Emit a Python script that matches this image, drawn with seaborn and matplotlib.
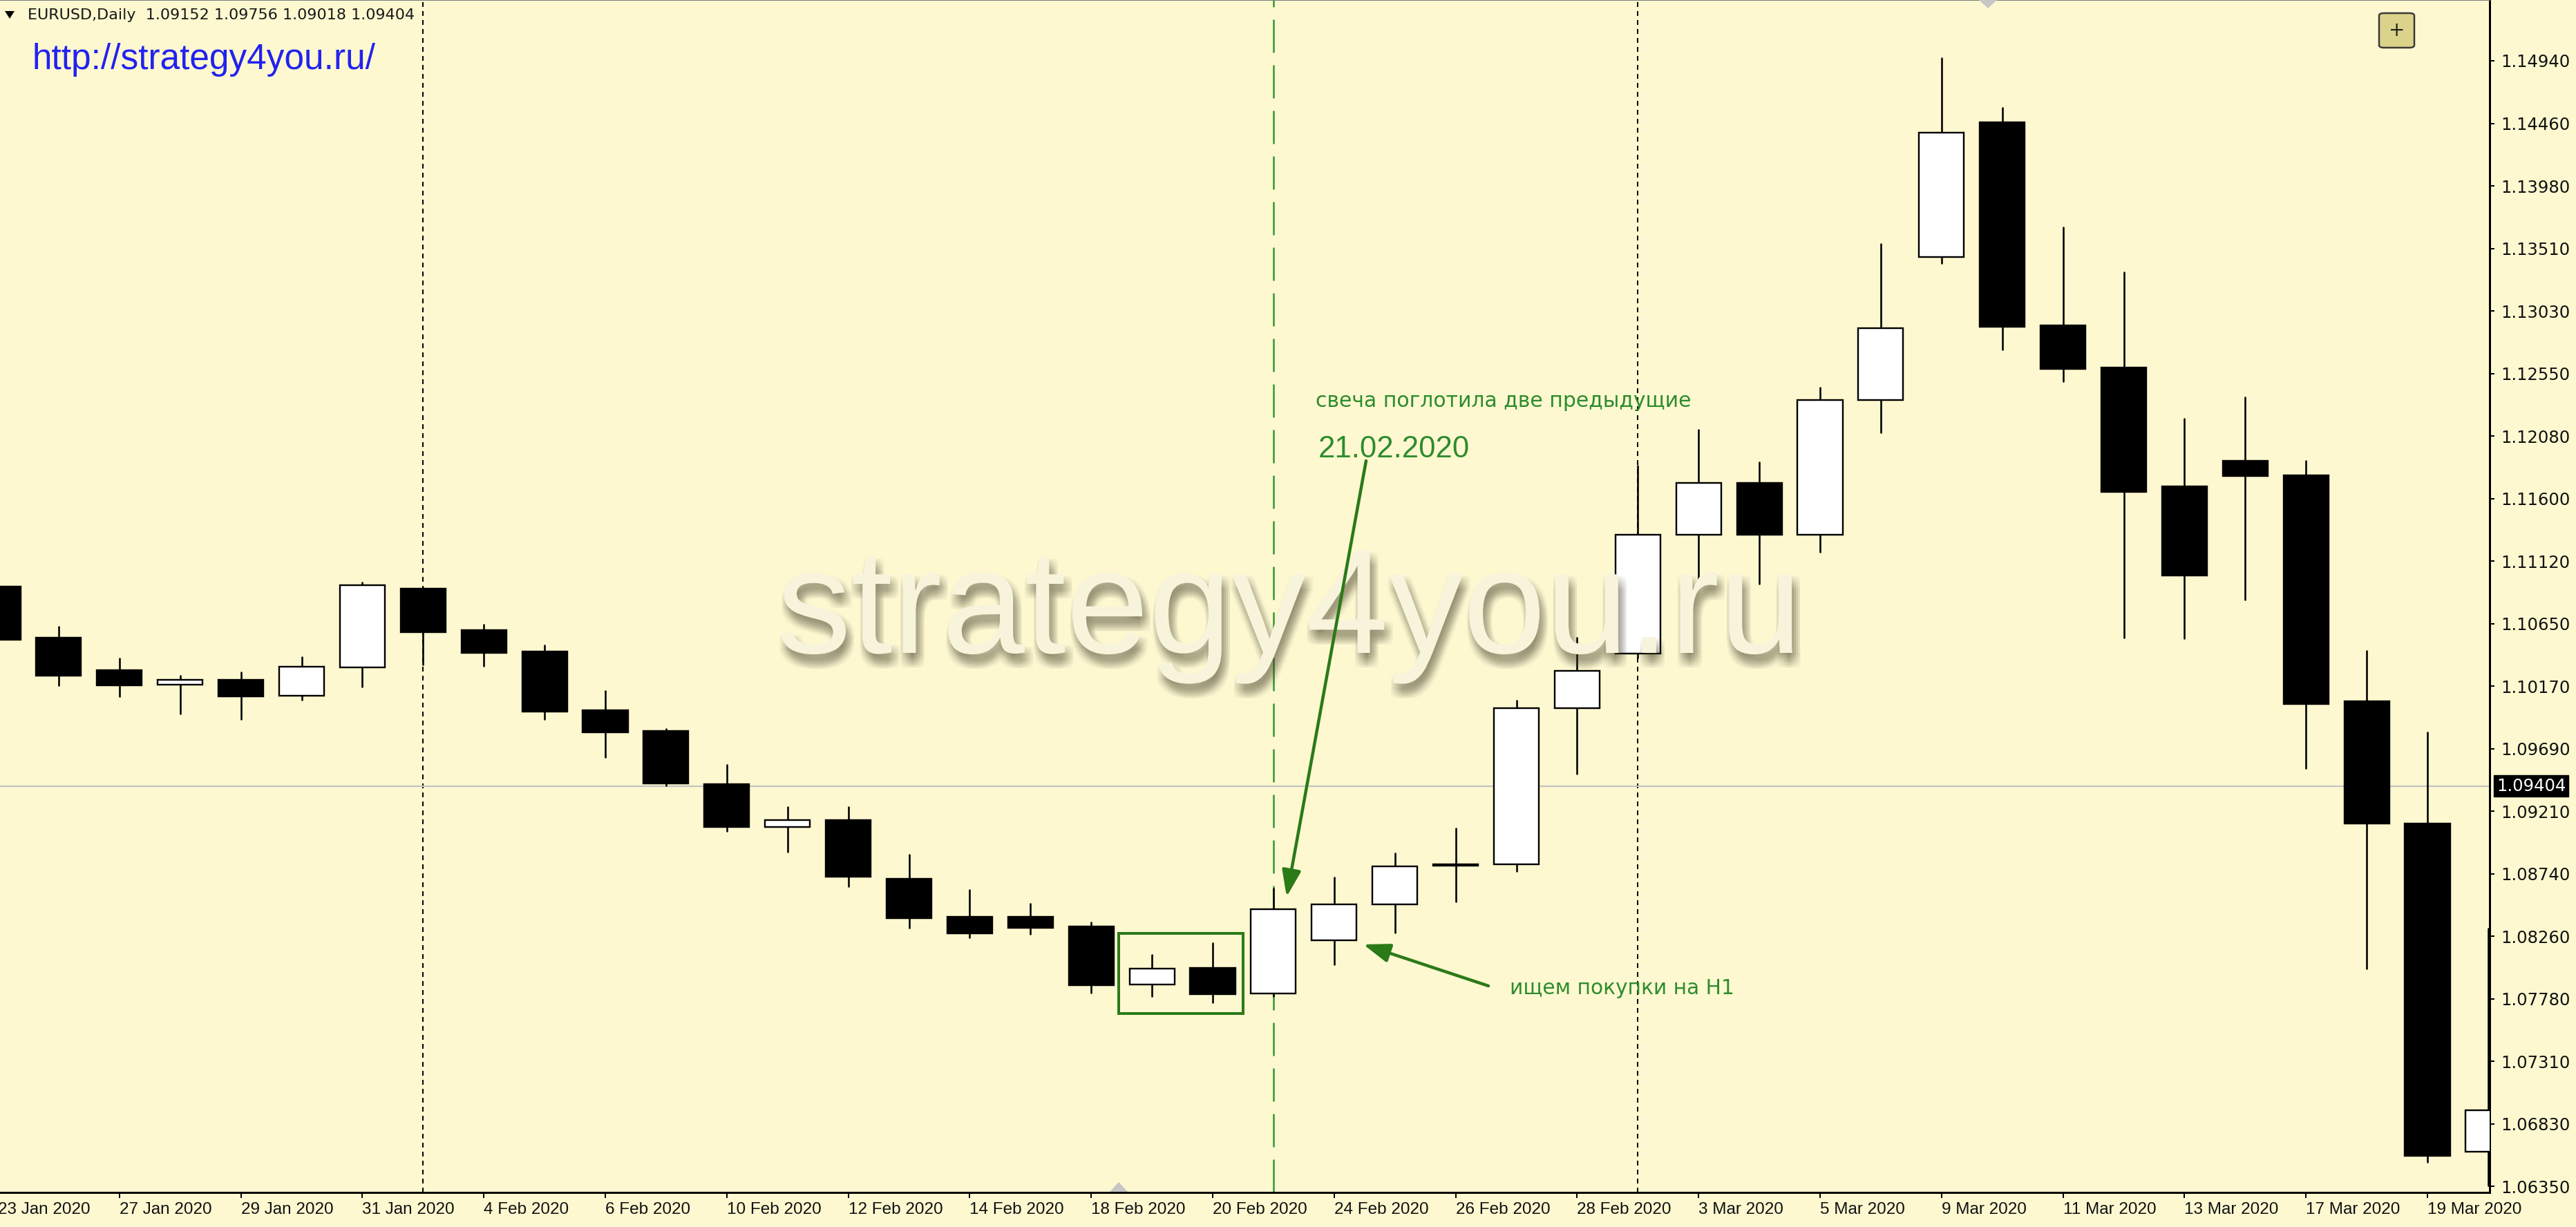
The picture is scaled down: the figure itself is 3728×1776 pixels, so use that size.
import numpy as np
import pandas as pd
import matplotlib
matplotlib.use("Agg")
import matplotlib.pyplot as plt
import matplotlib.patheffects as pe
from matplotlib.patches import Rectangle, Polygon, FancyBboxPatch
import seaborn as sns

# ---------------- data ----------------
dates = ["2020-01-23", "2020-01-24", "2020-01-27", "2020-01-28", "2020-01-29", "2020-01-30", "2020-01-31",
         "2020-02-03", "2020-02-04", "2020-02-05", "2020-02-06", "2020-02-07",
         "2020-02-10", "2020-02-11", "2020-02-12", "2020-02-13", "2020-02-14",
         "2020-02-17", "2020-02-18", "2020-02-19", "2020-02-20", "2020-02-21",
         "2020-02-24", "2020-02-25", "2020-02-26", "2020-02-27", "2020-02-28",
         "2020-03-02", "2020-03-03", "2020-03-04", "2020-03-05", "2020-03-06",
         "2020-03-09", "2020-03-10", "2020-03-11", "2020-03-12", "2020-03-13",
         "2020-03-16", "2020-03-17", "2020-03-18", "2020-03-19", "2020-03-20"]

opens = [1.10927, 1.10535, 1.10289, 1.10178, 1.10217, 1.10092, 1.10310,
         1.10913, 1.10593, 1.10433, 1.09983, 1.09823,
         1.09417, 1.09094, 1.09143, 1.08695, 1.08407,
         1.08407, 1.08333, 1.07891, 1.08015, 1.07821,
         1.08228, 1.08502, 1.08795, 1.08808, 1.09997,
         1.10414, 1.11324, 1.11717, 1.11324, 1.12353,
         1.13441, 1.14469, 1.12918, 1.12597, 1.11690,
         1.11889, 1.11776, 1.10051, 1.09119, 1.06612]
highs = [1.11091, 1.10623, 1.10377, 1.10245, 1.10275, 1.10391, 1.10957,
         1.10922, 1.10637, 1.10479, 1.10131, 1.09841,
         1.09565, 1.09247, 1.09247, 1.08883, 1.08611,
         1.08508, 1.08364, 1.08118, 1.08206, 1.08623,
         1.08708, 1.08891, 1.09083, 1.10057, 1.10537,
         1.11850, 1.12124, 1.11877, 1.12444, 1.13542,
         1.14960, 1.14582, 1.13671, 1.13324, 1.12210,
         1.12371, 1.11889, 1.10439, 1.09812, 1.08315]
lows = [1.10358, 1.10175, 1.10087, 1.09958, 1.09915, 1.10061, 1.10161,
        1.10333, 1.10319, 1.09915, 1.09626, 1.09407,
        1.09059, 1.08904, 1.08640, 1.08321, 1.08247,
        1.08276, 1.07828, 1.07799, 1.07754, 1.07800,
        1.08045, 1.08283, 1.08525, 1.08754, 1.09499,
        1.10386, 1.10949, 1.10949, 1.11191, 1.12101,
        1.13395, 1.12737, 1.12492, 1.10537, 1.10534,
        1.10827, 1.09539, 1.08013, 1.06537, 1.06356]
closes = [1.10521, 1.10248, 1.10175, 1.10215, 1.10089, 1.10315, 1.10939,
          1.10579, 1.10421, 1.09973, 1.09814, 1.09423,
          1.09090, 1.09143, 1.08714, 1.08394, 1.08278,
          1.08324, 1.07886, 1.08011, 1.07814, 1.08465,
          1.08502, 1.08790, 1.08805, 1.09997, 1.10285,
          1.11324, 1.11717, 1.11324, 1.12353, 1.12901,
          1.14393, 1.12910, 1.12590, 1.11652, 1.11012,
          1.11769, 1.10029, 1.09119, 1.06582, 1.06929]

price_tick_labels = ["1.14940", "1.14460", "1.13980", "1.13510", "1.13030", "1.12550", "1.12080",
                     "1.11600", "1.11120", "1.10650", "1.10170", "1.09690", "1.09210", "1.08740",
                     "1.08260", "1.07780", "1.07310", "1.06830", "1.06350"]
current_price = 1.09404
header_symbol = "EURUSD,Daily"
header_ohlc = ["1.09152", "1.09756", "1.09018", "1.09404"]
marked_date = "2020-02-21"
url_text = "http://strategy4you.ru/"
watermark_text = "strategy4you.ru"
note_top = "свеча поглотила две предыдущие"
note_date = "21.02.2020"
note_bottom = "ищем покупки на H1"

# ---------------- layout ----------------
W, H, DPI = 3728, 1776, 100
BG = "#fdf8d0"
GREEN_TXT = "#2d8c2d"
GREEN_LN = "#2b7a18"


def pt(px):
    return px * 72.0 / DPI


sns.set_theme(style="white")
plt.rcParams["font.family"] = ["DejaVu Sans"]
plt.rcParams["lines.scale_dashes"] = False

fig = plt.figure(figsize=(W / DPI, H / DPI), dpi=DPI, facecolor=BG)
AX_L, AX_R, AX_T, AX_B = -10, 3603, 0, 1726
ax = fig.add_axes([AX_L / W, 1 - AX_B / H, (AX_R - AX_L) / W, (AX_B - AX_T) / H])
ax.set_facecolor(BG)

SP, X0 = 87.9, -3.0                 # pixels per bar, pixel of bar 0
P_REF, Y_REF, PPU = 1.1494, 88.0, 18964.0


def px2data(xp, yp):
    return (xp - X0) / SP, P_REF - (yp - Y_REF) / PPU


ax.set_xlim(px2data(AX_L, 0)[0], px2data(AX_R, 0)[0])
ax.set_ylim(px2data(0, AX_B)[1], px2data(0, AX_T)[1])

o = np.array(opens); h = np.array(highs); l = np.array(lows); c = np.array(closes)
n = len(dates)
idx = np.arange(n)
dts = pd.to_datetime(dates)

# period separators (first bar of each month)
sep_idx = [i for i in range(1, n) if dts[i].month != dts[i - 1].month]
for i in sep_idx:
    ax.axvline(i, color="black", lw=pt(2), ls=(0, (pt(7), pt(6))), zorder=1)
mark_i = dates.index(marked_date)
ax.axvline(mark_i, color="#2f9a2f", lw=pt(2.5), ls=(0, (pt(48), pt(18))), zorder=1)
ax.axhline(current_price, color="#c4c4c4", lw=pt(2.2), zorder=1.5)

# wicks via seaborn
wick_df = pd.DataFrame({"bar": np.repeat(idx, 2), "x": np.repeat(idx, 2),
                        "price": np.column_stack([l, h]).ravel()})
sns.lineplot(data=wick_df, x="x", y="price", units="bar", estimator=None, sort=False,
             color="black", lw=pt(2.6), ax=ax, zorder=2)

# bodies
up = c >= o
ax.bar(idx, np.abs(c - o), bottom=np.minimum(o, c), width=0.74,
       color=np.where(up, "white", "black"), edgecolor="black", linewidth=pt(2.4), zorder=3)

# watermark (single text with soft shadow built from path effects)
shadow = [pe.SimplePatchShadow(offset=(pt(dx), pt(dy)), shadow_rgbFace="#55513a", alpha=0.021)
          for dx in range(-3, 13, 3) for dy in range(-3, -22, -3)]
wx, wy = px2data(1866, 945)
ax.text(wx, wy, watermark_text, ha="center", va="baseline", fontsize=155,
        family="Liberation Sans", color="#f8f4dc", zorder=5,
        path_effects=shadow + [pe.Normal()])

# annotations
rx0, ry0 = px2data(1618.5, 1467.3)
rx1, ry1 = px2data(1798.5, 1350.7)
ax.add_patch(Rectangle((rx0, ry0), rx1 - rx0, ry1 - ry0, fill=False, ec=GREEN_LN, lw=pt(4), zorder=6))

arrow_kw = dict(arrowstyle="-|>,head_length=0.9,head_width=0.32", color=GREEN_LN,
                lw=pt(4.5), mutation_scale=26, shrinkA=0, shrinkB=0)
ax.annotate("", xy=px2data(1862, 1298), xytext=px2data(1977, 667), arrowprops=arrow_kw, zorder=6)
ax.annotate("", xy=px2data(1973, 1367), xytext=px2data(2154, 1427), arrowprops=arrow_kw, zorder=6)

ax.text(*px2data(1904, 589), note_top, ha="left", va="baseline", fontsize=21.5,
        family="DejaVu Sans", color=GREEN_TXT, zorder=7)
ax.text(*px2data(1908, 662), note_date, ha="left", va="baseline", fontsize=31.5,
        family="Liberation Sans", color=GREEN_TXT, zorder=7)
ax.text(*px2data(2185, 1438.5), note_bottom, ha="left", va="baseline", fontsize=21.3,
        family="DejaVu Sans", color=GREEN_TXT, zorder=7)

# axes styling
ax.set_xlabel(""); ax.set_ylabel("")
ax.spines["left"].set_visible(False)
ax.spines["top"].set_color("#7a7a7a"); ax.spines["top"].set_linewidth(pt(2))
for s in ["right", "bottom"]:
    ax.spines[s].set_color("black"); ax.spines[s].set_linewidth(pt(3))

tick_vals = np.linspace(float(price_tick_labels[0]), float(price_tick_labels[-1]), len(price_tick_labels))
ax.yaxis.tick_right()
ax.set_yticks(tick_vals)
ax.set_yticklabels(price_tick_labels, family="DejaVu Sans", fontsize=17.5, color="#111111")
ax.tick_params(axis="y", which="major", direction="out", length=pt(7), width=pt(2),
               pad=pt(9), right=True, left=False, color="black")

xt = idx[::2]
ax.set_xticks(xt)
ax.set_xticklabels([f"{dts[i].day} {dts[i].strftime('%b %Y')}" for i in xt], ha="left",
                   family="Liberation Sans", fontsize=17.5, color="#111111")
ax.tick_params(axis="x", which="major", direction="out", length=pt(8), width=pt(2),
               pad=pt(6), bottom=True, color="black")

# current price label
ax.annotate(f"{current_price:.5f}", xy=(1.0, current_price), xycoords=("axes fraction", "data"),
            xytext=(pt(10), 0), textcoords="offset points", ha="left", va="center",
            fontsize=17.5, family="DejaVu Sans", color="white", annotation_clip=False,
            bbox=dict(boxstyle="square,pad=0.15", fc="black", ec="black"), zorder=10)


# header
def fx(xp):
    return xp / W


def fy(yp):
    return 1 - yp / H


fig.add_artist(Polygon([(fx(7), fy(16)), (fx(21), fy(16)), (fx(14), fy(27))], closed=True,
                       transform=fig.transFigure, fc="black", ec="none"))
fig.text(fx(40), fy(28), header_symbol + "  " + " ".join(header_ohlc), ha="left", va="baseline",
         fontsize=16, family="DejaVu Sans", color="#1a1a1a")
fig.text(fx(46), fy(100), url_text, ha="left", va="baseline", fontsize=37,
         family="Liberation Sans", color="#2222ee")

# "+" button
fig.add_artist(FancyBboxPatch((fx(3443), fy(69)), fx(51), 50 / H, boxstyle="round,pad=0,rounding_size=0.002",
                              transform=fig.transFigure, fc="#dbd38a", ec="#3a3a3a", lw=pt(2.5)))
fig.text(fx(3468.5), fy(44), "+", ha="center", va="center", fontsize=20, color="#222222")

# gray shift markers
fig.add_artist(Polygon([(fx(1606), fy(1725)), (fx(1632), fy(1725)), (fx(1619), fy(1711))], closed=True,
                       transform=fig.transFigure, fc="#c6c6c6", ec="none"))
fig.add_artist(Polygon([(fx(2864), fy(0)), (fx(2890), fy(0)), (fx(2877), fy(12))], closed=True,
                       transform=fig.transFigure, fc="#c6c6c6", ec="none"))

fig.savefig("out.png", dpi=DPI, facecolor=BG)
